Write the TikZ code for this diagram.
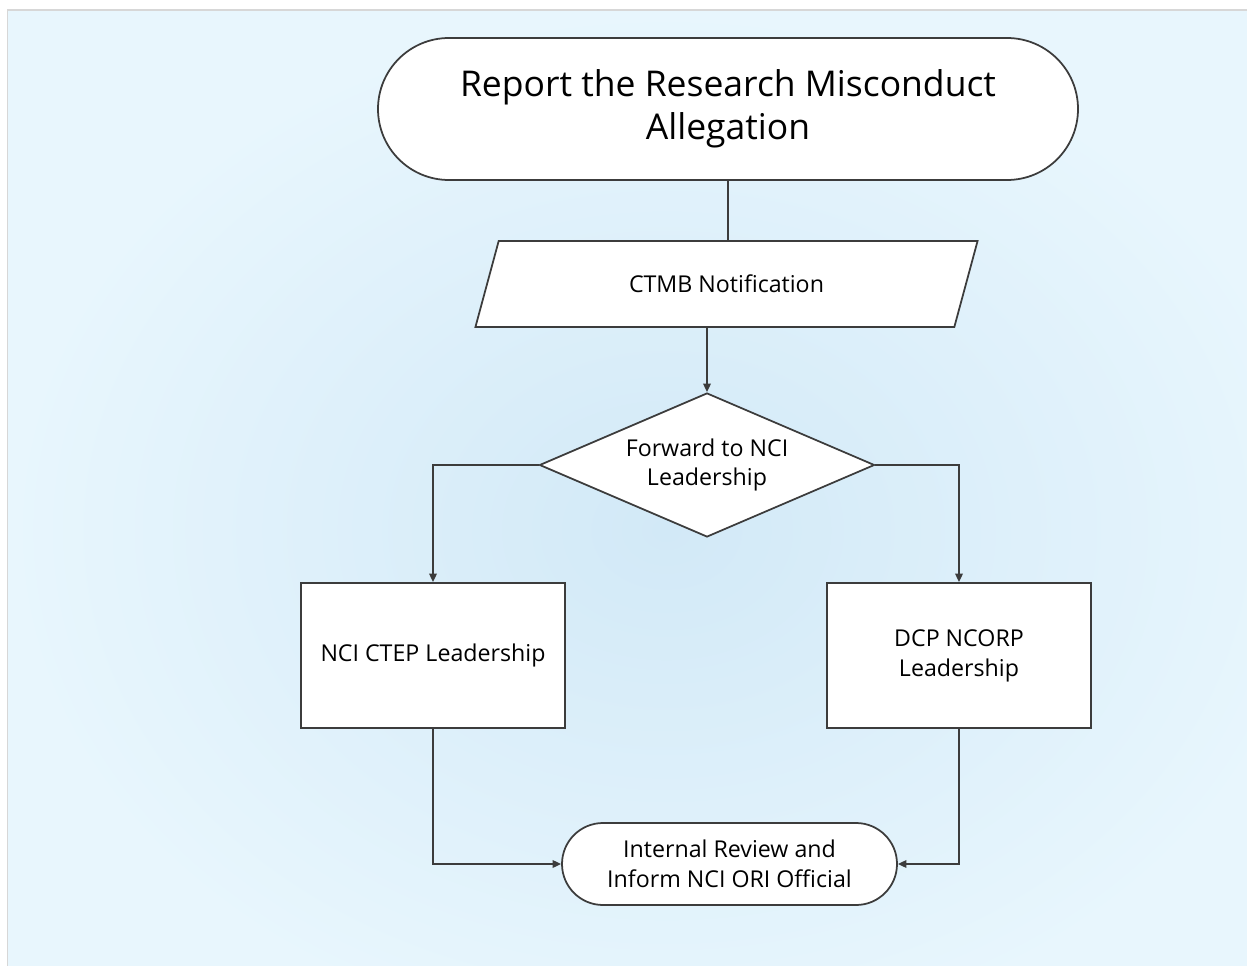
\documentclass[tikz,border=0pt]{standalone}
\usepackage{fontspec}
\setmainfont{Open Sans}
\usetikzlibrary{shapes.geometric,arrows.meta}

\definecolor{lineclr}{RGB}{60,60,60}
\definecolor{bginner}{RGB}{210,233,247}
\definecolor{bgouter}{RGB}{232,246,253}
\definecolor{frameclr}{RGB}{215,215,215}

\begin{document}
\begin{tikzpicture}[node distance=3.5cm, >={Triangle[length=1.7mm,width=1.5mm]}, line width=1pt]
    \tikzstyle{terminal} = [rectangle, rounded corners=1.42cm, minimum width=14cm, minimum height=2.84cm, text centered, align=center, draw=lineclr, fill=white, font=\fontsize{20.2}{24.5}\selectfont]
    \tikzstyle{endpoint} = [rectangle, rounded corners=0.82cm, minimum width=6.7cm, minimum height=1.64cm, text centered, align=center, draw=lineclr, fill=white, font=\fontsize{13.2}{17}\selectfont]
    \tikzstyle{io} = [trapezium, trapezium left angle=83.4, trapezium right angle=96.6, trapezium stretches=true, minimum width=10.06cm, text height=1.025cm, text depth=0.695cm, inner sep=0pt, text centered, draw=lineclr, fill=white, font=\fontsize{13.2}{17}\selectfont]
    \tikzstyle{decision} = [diamond, aspect=2.33, minimum width=6.7cm, minimum height=2.88cm, inner sep=0pt, text centered, align=center, draw=lineclr, fill=white, font=\fontsize{13.2}{17}\selectfont]
    \tikzstyle{process} = [rectangle, minimum width=5.28cm, minimum height=2.9cm, text centered, align=center, draw=lineclr, fill=white, font=\fontsize{13.2}{17}\selectfont]
    \tikzstyle{arrow} = [->, draw=lineclr]

    % Canvas
    \useasboundingbox (0,0) rectangle (24.94,-19.32);
    \begin{scope}
        \clip (0,0) rectangle (24.94,-19.32);
        \shade [inner color=bginner, outer color=bgouter, draw=frameclr, line width=0.6pt] (0.15,-0.2) rectangle (26.5,-21);
    \end{scope}

    % Start and first steps
    \node [terminal] (title) at (14.56,-2.18) {Report the Research Misconduct\\Allegation};
    \node [io, below of=title, xshift=-0.03cm] (notif) {CTMB Notification};
    \node [decision, below of=notif, xshift=-0.39cm, yshift=-0.12cm] (forward) {Forward to NCI\\Leadership};

    % Leadership branches
    \node [process, below of=forward, xshift=-5.48cm, yshift=-0.31cm] (ctep) {NCI CTEP Leadership};
    \node [process, below of=forward, xshift=5.04cm, yshift=-0.31cm] (ncorp) {DCP NCORP\\Leadership};

    % End
    \node [endpoint, below of=ctep, xshift=5.93cm, yshift=-0.67cm] (review) {Internal Review and\\Inform NCI ORI Official};

    % Connections
    \draw [draw=lineclr] (title.south) -- (title.south |- notif.north);
    \draw [arrow] (forward.north |- notif.south) -- (forward.north);
    \draw [arrow] (forward.west) -| (ctep.north);
    \draw [arrow] (forward.east) -| (ncorp.north);
    \draw [arrow] (ctep.south) |- (review.west);
    \draw [arrow] (ncorp.south) |- (review.east);
\end{tikzpicture}
\end{document}
